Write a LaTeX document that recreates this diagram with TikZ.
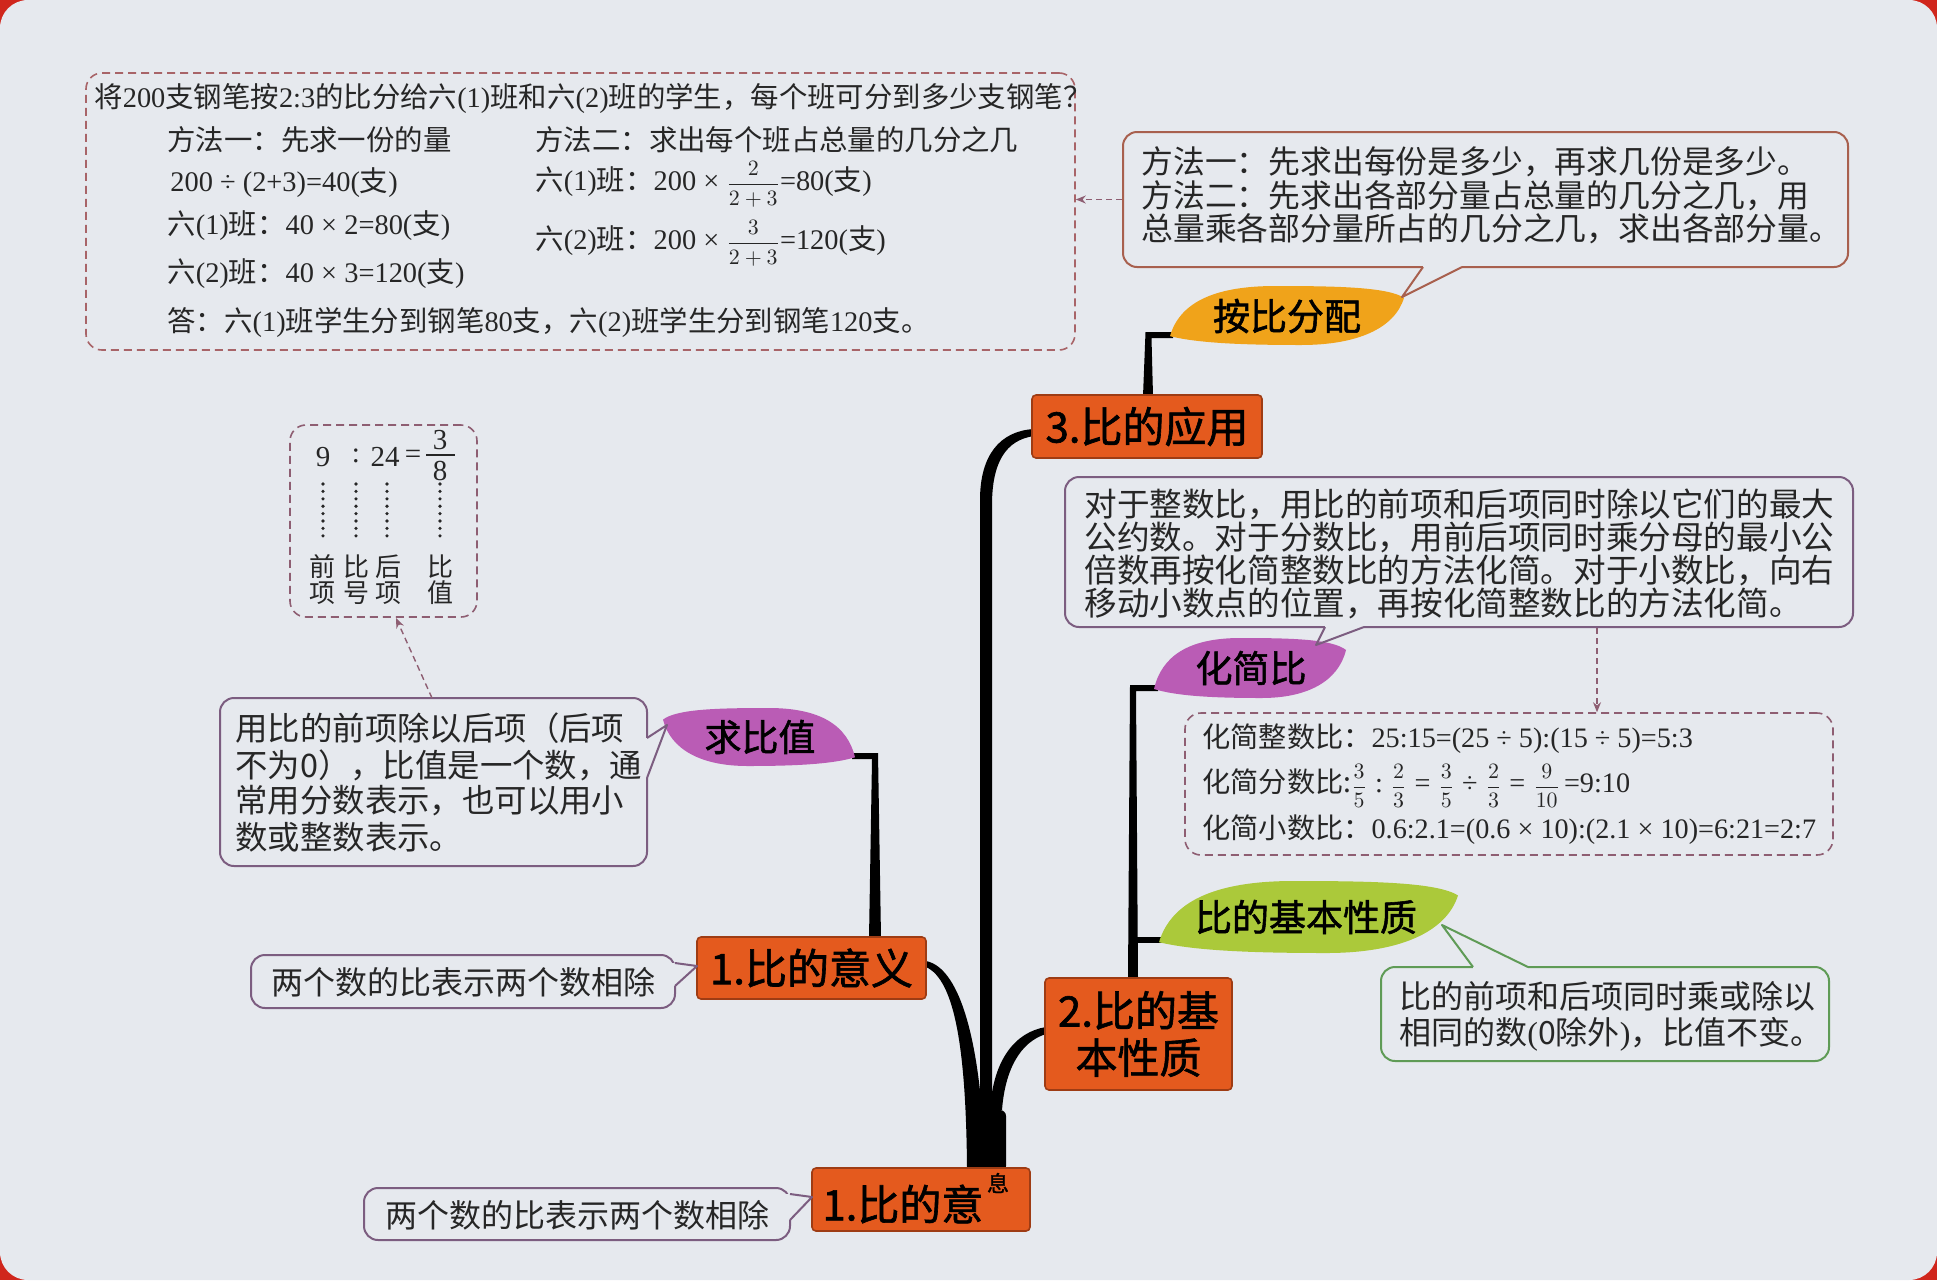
\documentclass[tikz,border=0pt]{standalone}
\usepackage{amsmath}
\usepackage{fontspec}
\setmainfont{Noto Sans CJK SC}
\newfontfamily\cjkmed[FakeBold=1.5]{Noto Sans CJK SC}
\newfontfamily\ser{Liberation Serif}
\usetikzlibrary{arrows.meta,fit}
\definecolor{bgc}{HTML}{E6E9EE}
\definecolor{redc}{HTML}{D0261C}
\definecolor{boxfill}{HTML}{E45A1E}
\definecolor{boxedge}{HTML}{9E3C14}
\definecolor{leafor}{HTML}{F0A31A}
\definecolor{leafmg}{HTML}{BA5CB5}
\definecolor{leafgr}{HTML}{ABC93A}
\definecolor{purp}{HTML}{7C5D80}
\definecolor{brownr}{HTML}{A8604E}
\definecolor{greenb}{HTML}{5F9B56}
\definecolor{dashc}{HTML}{8E5E72}
\definecolor{dashr}{HTML}{A86468}
\definecolor{txt}{HTML}{262626}
\newcommand\leafR[5]{\fill[#5,shift={(#1,#2)},xscale=#3,yscale=#4]
  (0,0.85) .. controls (0.04,0.3) and (0.18,0) .. (0.45,0)
  .. controls (0.72,0) and (0.93,0.02) .. (1,0.2)
  .. controls (0.96,0.72) and (0.8,1) .. (0.56,1)
  .. controls (0.32,1) and (0.12,0.97) .. (0,0.85) -- cycle;}
\newcommand\fr[2]{{\fontsize{10.5}{10.5}\selectfont$\dfrac{#1}{#2}$}}
\newcommand\op[1]{\hspace{4pt}{\ser #1}\hspace{4pt}}
\begin{document}
\begin{tikzpicture}[x=0.5pt,y=-0.5pt,
  obox/.style={draw=boxedge,fill=boxfill,line width=0.8pt,rounded corners=2pt,inner sep=0pt},
  obtxt/.style={font=\cjkmed\fontsize{21}{23.5}\selectfont,text=black,align=center,inner sep=0pt},
  leaftxt/.style={font=\cjkmed\fontsize{18.5}{20}\selectfont,text=black,inner sep=0pt},
  callp/.style={draw=purp,line width=1pt,rounded corners=7pt,inner sep=0pt},
  callb/.style={draw=brownr,line width=1pt,rounded corners=7pt,inner sep=0pt},
  callg/.style={draw=greenb,line width=1pt,rounded corners=7pt,inner sep=0pt},
  dbox/.style={draw=dashc,line width=0.8pt,dash pattern=on 4pt off 2.5pt,rounded corners=8pt,inner sep=0pt},
  ctxt/.style={font=\fontsize{16}{16}\selectfont,text=txt,inner sep=0pt,anchor=west},
  stxt/.style={font=\fontsize{14.2}{14.2}\selectfont,text=txt,inner sep=0pt,anchor=west},
  dtxt/.style={font=\fontsize{14.1}{14.1}\selectfont,text=txt,inner sep=0pt,anchor=west},
  rtxt/.style={font=\ser\fontsize{14.5}{14.5}\selectfont,text=txt,inner sep=0pt},
  lbtxt/.style={font=\fontsize{13}{13}\selectfont,text=txt,inner sep=0pt,align=center},
  darr/.style={draw=dashc,line width=0.7pt,dash pattern=on 3pt off 2pt,-{Stealth[length=5pt,width=4pt]}},
  ptr/.style={line width=1pt,line join=round},
]
% background
\fill[redc] (0,0) rectangle (1937,1280);
\fill[bgc,rounded corners=14pt] (0,0) rectangle (1937,1280);
\useasboundingbox (0,0) rectangle (1937,1280);

% trunk and branches
\fill[black] (980,1170) -- (980,500) .. controls (980,455) and (1000,431) .. (1034,429) -- (1034,436) .. controls (1006,440) and (992,462) .. (992,505) -- (992,1170) -- cycle;
\fill[black] (926,961) .. controls (962,968) and (982,1050) .. (985,1168) -- (967,1168) .. controls (966,1050) and (955,980) .. (926,967) -- cycle;
\fill[black] (1046,1027) .. controls (1015,1032) and (993,1060) .. (990,1110) -- (1002,1110) .. controls (1005,1070) and (1020,1042) .. (1046,1034) -- cycle;
\fill[black,rounded corners=3pt] (967,1110) rectangle (1006,1172);

% stems
\fill[black] (1143,396) -- (1145.5,332) -- (1173,332) -- (1173,338) -- (1151.5,338) -- (1153,396) -- cycle;
\fill[black] (1128,979) -- (1130,685) -- (1158,685) -- (1158,691) -- (1136,691) -- (1138,979) -- cycle;
\fill[black] (1134,937) rectangle (1163,943);
\fill[black] (881,938) -- (878,753) -- (852,753) -- (852,759) -- (872,759) -- (869,938) -- cycle;

% orange boxes
\node[obox, fit={(697,937)(926,999)}] (b1) {};
\node[obtxt] (b1t) at (b1.center) {1.比的意义};
\node[obox, fit={(1045,978)(1232,1090)}] (b2) {};
\node[obtxt] (b2t) at (b2.center) {2.比的基\\本性质};
\node[obox, fit={(1032,395)(1262,458)}] (b3) {};
\node[obtxt] (b3t) at (b3.center) {3.比的应用};
\node[obox, fit={(812,1168)(1030,1231)}] (b0) {};
\node[obtxt, anchor=west] (b0t) at (822,1204) {1.比的意};
\node[font=\cjkmed\fontsize{11}{11}\selectfont, inner sep=0pt] (b0g) at (998,1183) {息};

% leaves
\leafR{1170}{286}{234}{59}{leafor}
\leafR{1154}{638}{192}{60}{leafmg}
\leafR{1159}{881}{299}{72}{leafgr}
\leafR{855}{708}{-192}{58}{leafmg}
\node[leaftxt] (l1) at (1287,316) {按比分配};
\node[leaftxt] (l2) at (1251,668) {化简比};
\node[leaftxt] (l3) at (1306,917) {比的基本性质};
\node[leaftxt] (l4) at (760,737) {求比值};

% top-left dashed box
\node[dbox, draw=dashr, fit={(86,73)(1075,350)}] (tb) {};
\node[stxt] (t0) at (94,98) {将{\ser 200}支钢笔按{\ser 2:3}的比分给六{\ser (1)}班和六{\ser (2)}班的学生，每个班可分到多少支钢笔？};
\node[stxt] (t1) at (167,140) {方法一：先求一份的量};
\node[stxt] (t2) at (170,183) {{\ser 200 ÷ (2+3)=40(}支{\ser )}};
\node[stxt] (t3) at (167,226) {六{\ser (1)}班：{\ser 40 × 2=80(}支{\ser )}};
\node[stxt] (t4) at (167,274) {六{\ser (2)}班：{\ser 40 × 3=120(}支{\ser )}};
\node[stxt] (t5) at (167,322) {答：六{\ser (1)}班学生分到钢笔{\ser 80}支，六{\ser (2)}班学生分到钢笔{\ser 120}支。};
\node[stxt] (t6) at (535,140) {方法二：求出每个班占总量的几分之几};
\node[stxt] (t7) at (535,184) {六{\ser (1)}班：{\ser 200 × }\fr{2}{2+3}{\ser =80(}支{\ser )}};
\node[stxt] (t8) at (535,243) {六{\ser (2)}班：{\ser 200 × }\fr{3}{2+3}{\ser =120(}支{\ser )}};

% method callout
\node[callb, fit={(1123,132)(1848,267)}] (cm) {};
\fill[bgc] (1423,262) rectangle (1462,272);
\draw[brownr,ptr] (1423,267) -- (1402,297) -- (1462,267);
\node[ctxt,font=\fontsize{15.9}{15.9}\selectfont] (cm1) at (1141,162) {方法一：先求出每份是多少，再求几份是多少。};
\node[ctxt,font=\fontsize{15.9}{15.9}\selectfont] (cm2) at (1141,196) {方法二：先求出各部分量占总量的几分之几，用};
\node[ctxt,font=\fontsize{15.9}{15.9}\selectfont] (cm3) at (1141,229) {总量乘各部分量所占的几分之几，求出各部分量。};
\draw[darr] (cm.west) -- (cm.west -| tb.east);

% simplify callout
\node[callp, fit={(1065,477)(1853,627)}] (ch) {};
\fill[bgc] (1325,622) rectangle (1364,632);
\draw[purp,ptr] (1325,627) -- (1316,645) -- (1364,627);
\node[ctxt,font=\fontsize{16.3}{16.3}\selectfont] (ch1) at (1084,504) {对于整数比，用比的前项和后项同时除以它们的最大};
\node[ctxt,font=\fontsize{16.3}{16.3}\selectfont] (ch2) at (1084,537) {公约数。对于分数比，用前后项同时乘分母的最小公};
\node[ctxt,font=\fontsize{16.3}{16.3}\selectfont] (ch3) at (1084,570) {倍数再按化简整数比的方法化简。对于小数比，向右};
\node[ctxt,font=\fontsize{16.3}{16.3}\selectfont] (ch4) at (1084,603) {移动小数点的位置，再按化简整数比的方法化简。};

% simplify dashed box
\node[dbox, fit={(1185,713)(1833,855)}] (hb) {};
\coordinate (hx) at (1597,0);
\draw[darr] (ch.south -| hx) -- (hb.north -| hx);
\node[dtxt] (h1) at (1202,739) {化简整数比：{\ser 25:15=(25 ÷ 5):(15 ÷ 5)=5:3}};
\node[dtxt] (h2) at (1202,786) {化简分数比:\fr{3}{5}\op{:}\fr{2}{3}\op{=}\fr{3}{5}\op{÷}\fr{2}{3}\op{=}\fr{9}{10}\hspace{2pt}{\ser =9:10}};
\node[dtxt] (h3) at (1202,830) {化简小数比：{\ser 0.6:2.1=(0.6 × 10):(2.1 × 10)=6:21=2:7}};

% green callout
\node[callg, fit={(1381,967)(1829,1061)}] (cg) {};
\fill[bgc] (1473,962) rectangle (1528,972);
\draw[greenb,ptr] (1473,967) -- (1442,925) -- (1528,967);
\node[ctxt] (cg1) at (1399,996) {比的前项和后项同时乘或除以};
\node[ctxt] (cg2) at (1399,1034) {相同的数{\ser (}0除外{\ser )}，比值不变。};

% ratio value callout
\node[callp, fit={(220,698)(647,866)}] (cq) {};
\fill[bgc] (642,738) rectangle (652,778);
\draw[purp,ptr] (647,738) -- (667,725) -- (647,778);
\node[ctxt,font=\fontsize{16.2}{16.2}\selectfont] (cq1) at (235,728) {用比的前项除以后项（后项};
\node[ctxt,font=\fontsize{16.2}{16.2}\selectfont] (cq2) at (235,765) {不为0），比值是一个数，通};
\node[ctxt,font=\fontsize{16.2}{16.2}\selectfont] (cq3) at (235,801) {常用分数表示，也可以用小};
\node[ctxt,font=\fontsize{16.2}{16.2}\selectfont] (cq4) at (235,837) {数或整数表示。};

% ratio example dashed box
\node[dbox, fit={(290,425)(477,617)}] (rb) {};
\coordinate (qa) at (432,698);
\coordinate (qb) at (396,618);
\draw[darr] (qa) -- (qb);
\node[rtxt] (r1) at (323,457) {9};
\node[rtxt] (r2) at (356,456) {:};
\node[rtxt] (r3) at (385,457) {24};
\node[rtxt] (r4) at (413,457) {=};
\node[rtxt] (r5) at (440,440) {3};
\node[rtxt] (r6) at (440,471) {8};
\draw[txt,line width=0.7pt] (426,455) -- (455,455);
\foreach \xx in {323,356,387,440}{
  \foreach \yy in {0,...,7}{
    \fill[txt] (\xx,{484+7.4*\yy}) circle (0.9pt);
  }
}
\node[lbtxt] (p1) at (322,567) {前};
\node[lbtxt] (p1b) at (322,593) {项};
\node[lbtxt] (p2) at (356,567) {比};
\node[lbtxt] (p2b) at (356,593) {号};
\node[lbtxt] (p3) at (388,567) {后};
\node[lbtxt] (p3b) at (388,593) {项};
\node[lbtxt] (p4) at (440,567) {比};
\node[lbtxt] (p4b) at (440,593) {值};

% meaning callouts
\node[callp, fit={(251,955)(675,1008)}] (cy) {};
\fill[bgc] (670,963) rectangle (680,986);
\draw[purp,ptr] (675,963) -- (697,966) -- (675,986);
\node[ctxt,anchor=center] (cy1) at (463,982) {两个数的比表示两个数相除};

\node[callp, fit={(364,1188)(790,1240)}] (cz) {};
\fill[bgc] (785,1194) rectangle (795,1220);
\draw[purp,ptr] (790,1194) -- (812,1197) -- (790,1220);
\node[ctxt,anchor=center] (cz1) at (577,1215) {两个数的比表示两个数相除};
\end{tikzpicture}
\end{document}
